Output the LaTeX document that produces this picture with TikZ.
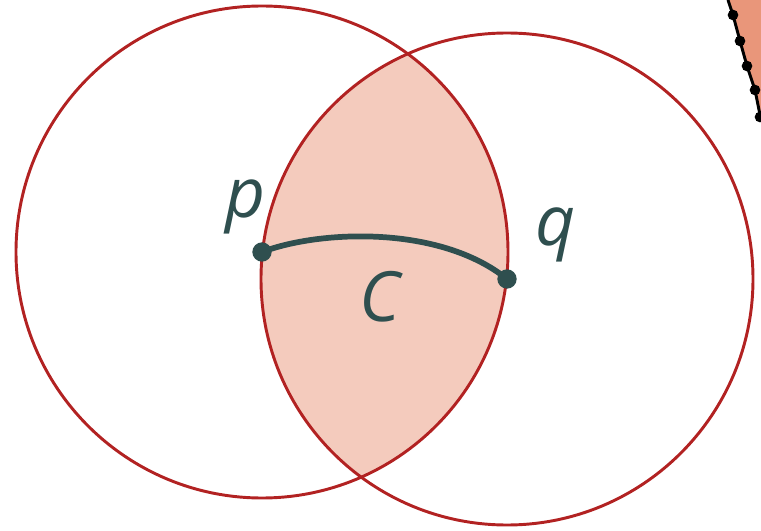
\documentclass[tikz,border=0pt]{standalone}
\usepackage{fontspec}
\setmainfont{Open Sans}
\definecolor{circred}{HTML}{B22222}
\definecolor{lensfill}{HTML}{F4CBBD}
\definecolor{slate}{HTML}{2F4F4F}
\definecolor{salmonfill}{HTML}{E9967A}
\tikzset{
  circ/.style={draw=circred, line width=2.2pt},
  pt/.style={circle, fill=slate, inner sep=0pt, minimum size=14.5pt},
  lbl/.style={text=slate, font=\fontsize{52}{62}\selectfont\itshape, anchor=base, inner sep=0pt},
  bdot/.style={circle, fill=black, inner sep=0pt, minimum size=8pt},
}
\begin{document}
\begin{tikzpicture}[x=0.75pt, y=-0.75pt]
\useasboundingbox (0,0) rectangle (761,531);
% top-right shape
\fill[salmonfill] (728,0) -- (733,15) -- (740,41) -- (747,66) -- (755,90) -- (761,117) -- (761,0) -- cycle;
\draw[line width=2.2pt] (728,0) -- (733,15) -- (740,41) -- (747,66) -- (755,90) -- (761,120);
\node[bdot] (d1) at (733,15) {};
\node[bdot] (d2) at (740,41) {};
\node[bdot] (d3) at (747,66) {};
\node[bdot] (d4) at (755,90) {};
\node[bdot] (d5) at (760,117) {};
% lens
\begin{scope}
\clip (262,252) circle[radius=246];
\fill[lensfill] (507,279) circle[radius=246];
\end{scope}
\draw[circ] (262,252) circle[radius=246];
\draw[circ] (507,279) circle[radius=246];
\node[pt] (p) at (262,252) {};
\node[pt] (q) at (507,279) {};
\draw[slate, line width=4.3pt] (p.center) .. controls (320,230) and (440,225) .. (q.center);
\node[lbl] (lp) at (246,218) {p};
\node[lbl] (lq) at (556,246) {q};
\node[lbl] (lc) at (380,321) {C};
\end{tikzpicture}
\end{document}
